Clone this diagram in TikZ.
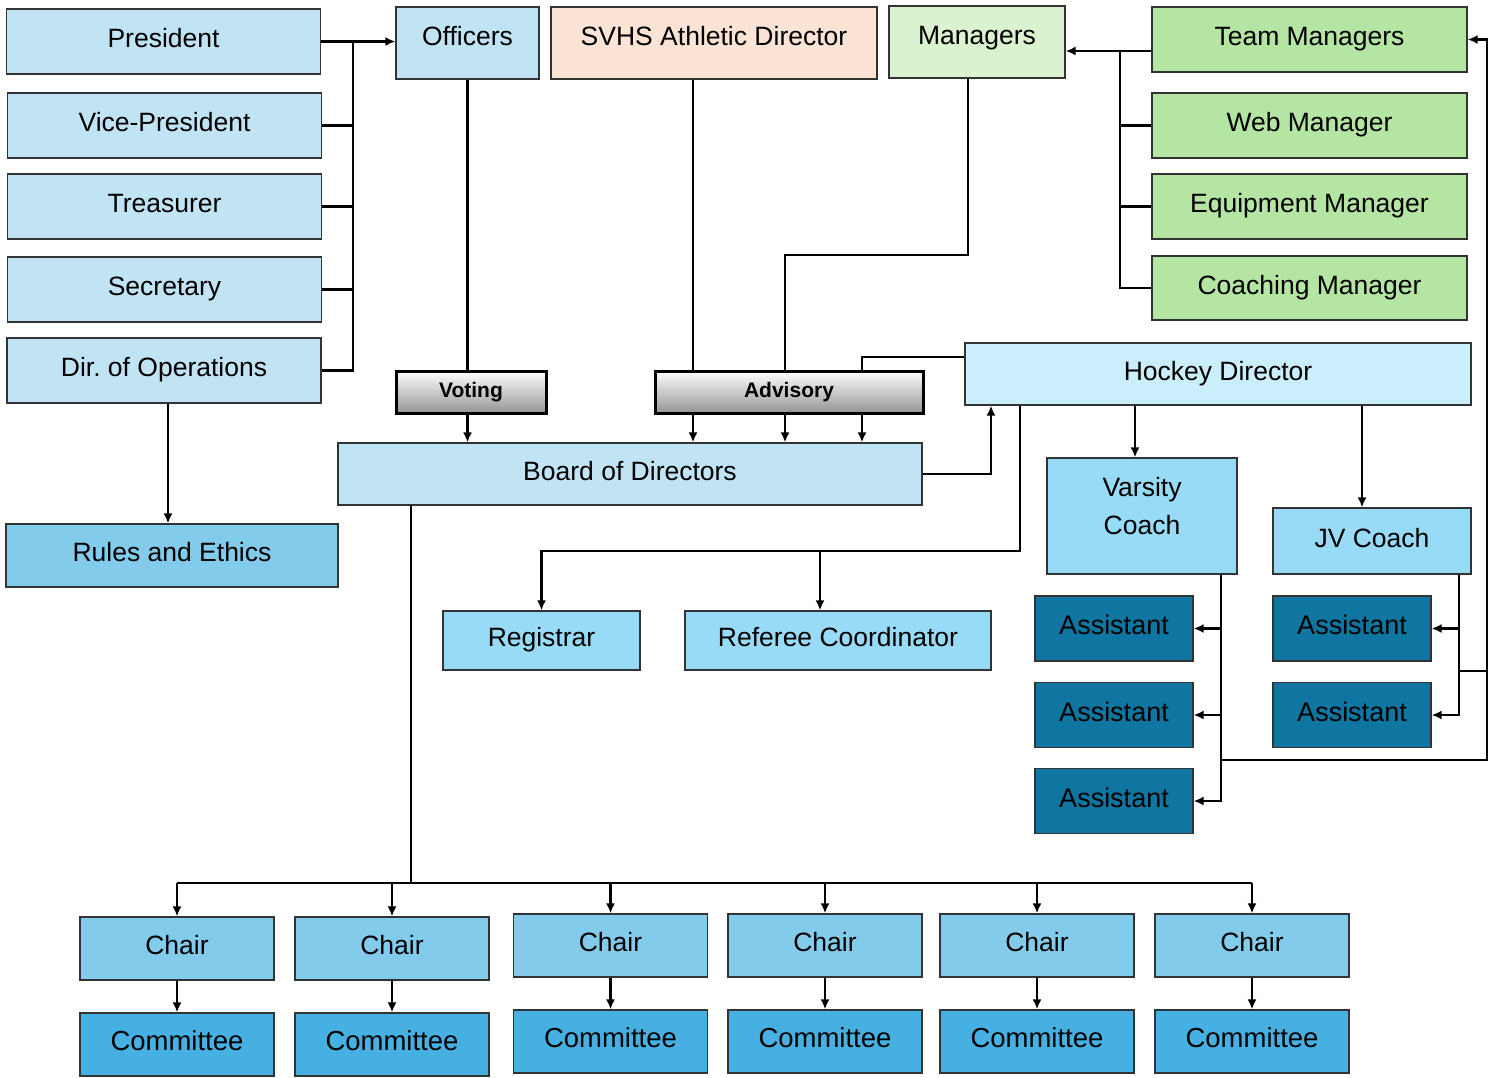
\documentclass[tikz,border=0pt]{standalone}
\usepackage{fontspec}
\setmainfont{Liberation Sans}
\usepackage{tikz}
\usetikzlibrary{arrows.meta}
\definecolor{offblue}{HTML}{C1E4F5}
\definecolor{hockblue}{HTML}{CAEEFB}
\definecolor{skyblue}{HTML}{97DBF7}
\definecolor{chairblue}{HTML}{83CBEB}
\definecolor{commblue}{HTML}{45B0E1}
\definecolor{asstblue}{HTML}{0E76A0}
\definecolor{peach}{HTML}{FBE3D6}
\definecolor{mint}{HTML}{DAF2D0}
\definecolor{leaf}{HTML}{B4E5A2}

\begin{document}
\begin{tikzpicture}[x=1pt,y=-1pt,>={Latex[length=10pt,width=9pt]},font=\fontsize{26.5}{38}\selectfont]
\tikzstyle{box} = [draw=black!80,line width=1.2pt,inner sep=0pt,text height=19pt,text depth=7pt];
\tikzstyle{officer} = [box,fill=offblue,minimum width=314pt,minimum height=65pt];
\tikzstyle{mgrbox} = [box,fill=leaf,minimum width=315pt,minimum height=65pt];
\tikzstyle{tall} = [text depth=14pt,minimum height=72pt];
\tikzstyle{grad} = [draw=black,line width=3pt,top color=white,bottom color=black!42,minimum height=42pt,inner sep=0pt,font=\bfseries\fontsize{21}{30}\selectfont];
\tikzstyle{asst} = [box,fill=asstblue,minimum width=158pt,minimum height=65pt,font=\fontsize{27}{38}\selectfont];
\tikzstyle{wire} = [line width=2.6pt];
\tikzstyle{alloc} = [wire,->];
\useasboundingbox (0,0) rectangle (1496,1077);

% officers
\node [officer] (pres) at (163.5,41.5) {President};
\node [officer] (vp) at (164.5,125.5) {Vice-President};
\node [officer] (tres) at (164.5,206.5) {Treasurer};
\node [officer] (sec) at (164.5,289.5) {Secretary};
\node [officer] (dirops) at (164,370.5) {Dir.\ of Operations};
\node [box,fill=chairblue,minimum width=332pt,minimum height=63pt] (rules) at (172,555.5) {Rules and Ethics};

% top row
\node [box,tall,fill=offblue,minimum width=143pt] (off) at (467.5,43) {Officers};
\node [box,tall,fill=peach,minimum width=326pt] (svhs) at (714,43) {SVHS Athletic Director};
\node [box,tall,fill=mint,minimum width=176pt] (mgr) at (977,42) {Managers};

% managers
\node [mgrbox] (team) at (1309.5,39.5) {Team Managers};
\node [mgrbox] (web) at (1309.5,125.5) {Web Manager};
\node [mgrbox] (equip) at (1309.5,206.5) {Equipment Manager};
\node [mgrbox,minimum height=64pt] (coachm) at (1309.5,288) {Coaching Manager};

% board
\node [grad,minimum width=150pt] (voting) at (471,392) {Voting};
\node [grad,minimum width=268pt] (advis) at (789,392) {Advisory};
\node [box,fill=offblue,minimum width=584pt,minimum height=62pt] (board) at (630,474) {Board of Directors};
\node [box,fill=hockblue,minimum width=506pt,minimum height=62pt] (hockey) at (1218,374) {Hockey Director};
\node [box,fill=skyblue,minimum width=197pt,minimum height=59pt] (reg) at (541.5,640.5) {Registrar};
\node [box,fill=skyblue,minimum width=306pt,minimum height=59pt] (ref) at (838,640.5) {Referee Coordinator};

% coaches
\node [box,fill=skyblue,minimum width=190pt,minimum height=116pt,align=center,text height=57pt,text depth=20pt] (varsity) at (1142,516) {Varsity\\Coach};
\node [box,fill=skyblue,minimum width=198pt,minimum height=66pt] (jv) at (1372,541) {JV Coach};
\foreach \i/\y in {1/628.5,2/715,3/801}
  \node [asst] (va\i) at (1114,\y) {Assistant};
\foreach \i/\y in {1/628.5,2/715}
  \node [asst] (ja\i) at (1352,\y) {Assistant};

% committees
\foreach \i/\x/\y in {1/177/948.5,2/392/948.5,3/610.5/945.5,4/825/945.5,5/1037/945.5,6/1252/945.5} {
  \node [box,fill=chairblue,minimum width=194pt,minimum height=63pt] (c\i) at (\x,\y) {Chair};
  \node [box,fill=commblue,minimum width=194pt,minimum height=63pt,font=\fontsize{27.5}{38}\selectfont] (m\i) at (\x,\y+96) {Committee};
}

\coordinate (b1) at (353,41.5);
\coordinate (d1) at (168,0);
\coordinate (x1) at (693,0);
\coordinate (g1) at (968,255);
\coordinate (g2) at (785,255);
\coordinate (h1) at (862,357);
\coordinate (h2) at (991,474);
\coordinate (h3) at (1020,551);
\coordinate (h4) at (820,551);
\coordinate (h5) at (1135,0);
\coordinate (h6) at (1362,0);
\coordinate (vb) at (1221,760);
\coordinate (jb) at (1459,671);
\coordinate (r1) at (1487,671);
\coordinate (mb) at (1120,51);
\coordinate (cb) at (411,883);

\draw [alloc] (pres.east) -- (pres.east -| off.west);
\draw [wire] (dirops.east) -| (b1);
\foreach \n in {vp,tres,sec}
  \draw [wire] (\n.east) -- (\n.east -| b1);
\draw [alloc] (dirops.south -| d1) -- (rules.north -| d1);

\draw [wire] (off.south) -- (off.south |- voting.north);
\draw [alloc] (voting.south -| off.south) -- (board.north -| off.south);
\draw [wire] (svhs.south -| x1) -- (advis.north -| x1);
\draw [wire] (mgr.south -| g1) -- (g1) -- (g2) -- (advis.north -| g2);
\draw [wire] (hockey.west |- h1) -- (h1) -- (advis.north -| h1);
\foreach \c in {x1,g2,h1}
  \draw [alloc] (advis.south -| \c) -- (board.north -| \c);

\draw [alloc] (team.west |- mb) -- (mgr.east |- mb);
\draw [wire] (mb) |- (coachm.west);
\foreach \n in {web,equip}
  \draw [wire] (\n.west) -- (\n.west -| mb);

\draw [alloc] (board.east) -- (h2) -- (hockey.south -| h2);
\draw [alloc] (hockey.south -| h3) -- (h3) -| (reg.north);
\draw [alloc] (h4) -- (ref.north -| h4);
\draw [alloc] (hockey.south -| h5) -- (varsity.north -| h5);
\draw [alloc] (hockey.south -| h6) -- (jv.north -| h6);

\draw [alloc] (varsity.south -| vb) |- (va3.east);
\foreach \i in {1,2}
  \draw [alloc] (va\i.east -| vb) -- (va\i.east);
\draw [alloc] (jv.south -| jb) |- (ja2.east);
\draw [alloc] (ja1.east -| jb) -- (ja1.east);
\draw [wire] (jb) -- (r1);
\draw [alloc] (vb) -| (r1) |- (team.east);

\draw [wire] (board.south -| cb) -- (cb);
\draw [wire] (c1.north |- cb) -- (c6.north |- cb);
\foreach \i in {1,...,6} {
  \draw [alloc] (c\i.north |- cb) -- (c\i.north);
  \draw [alloc] (c\i) -- (m\i);
}
\end{tikzpicture}
\end{document}
